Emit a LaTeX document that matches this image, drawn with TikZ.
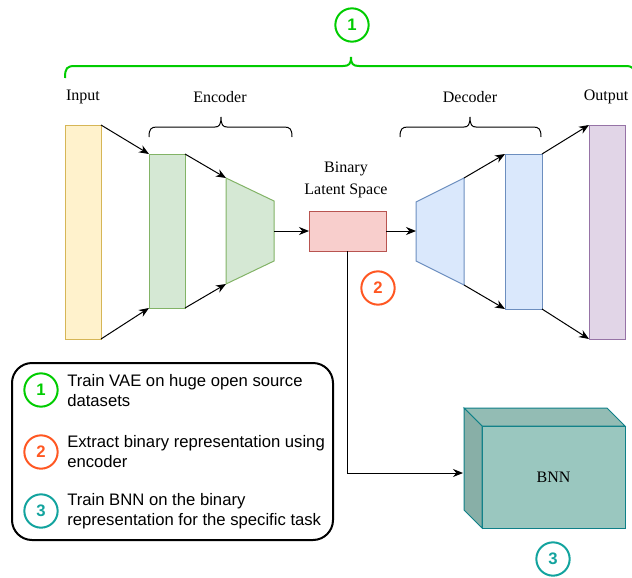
\documentclass[tikz,border=0pt]{standalone}
\usepackage{fontspec}
\setmainfont{Liberation Serif}
\setsansfont{Liberation Sans}
\usetikzlibrary{arrows.meta}
\definecolor{cgreen}{HTML}{00CC00}
\definecolor{corange}{HTML}{FF5722}
\definecolor{cteal}{HTML}{12A39E}
\definecolor{yfill}{HTML}{FFF2CC}\definecolor{ydraw}{HTML}{D6B656}
\definecolor{gfill}{HTML}{D5E8D4}\definecolor{gdraw}{HTML}{82B366}
\definecolor{rfill}{HTML}{F8CECC}\definecolor{rdraw}{HTML}{B85450}
\definecolor{bfill}{HTML}{DAE8FC}\definecolor{bdraw}{HTML}{6C8EBF}
\definecolor{pfill}{HTML}{E1D5E7}\definecolor{pdraw}{HTML}{9673A6}
\definecolor{tfront}{HTML}{9AC7BF}\definecolor{ttop}{HTML}{93BCB4}
\definecolor{tside}{HTML}{88AFA7}\definecolor{tdraw}{HTML}{0E8088}
\begin{document}
\begin{tikzpicture}[x=0.75pt,y=-0.75pt,
  font=\fontsize{12}{14.4}\selectfont,
  arr/.style={-{Stealth[length=7.5pt,width=6pt]}, line width=0.75pt, black},
  layer/.style={draw, line width=0.75pt, inner sep=0pt, outer sep=0pt},
  numc/.style={circle, draw, line width=1.5pt, minimum size=25pt, inner sep=0pt,
    font=\sffamily\bfseries\fontsize{12.5}{14}\selectfont},
  lbl/.style={inner sep=0pt},
  legtxt/.style={anchor=west, align=left, inner sep=0pt,
    font=\sffamily\fontsize{12.5}{15}\selectfont},
  brc/.style={line width=0.75pt}]
\useasboundingbox (0,0) rectangle (632,578);

% green brace and circle 1
\draw[cgreen, line width=1.5pt] (65,78) .. controls (65,68) and (67,66) .. (75,66) -- (343,66)
  .. controls (349,66) and (351,64) .. (351,57) .. controls (351,64) and (353,66) .. (359,66)
  -- (625,66) .. controls (633,66) and (635,68) .. (635,78);
\node[numc, cgreen, text=cgreen] (c1) at (352,25) {1};

% labels
\node[lbl] (tin) at (83,97) {Input};
\node[lbl] (tenc) at (220,97) {Encoder};
\node[lbl] (tdec) at (470,97) {Decoder};
\node[lbl] (tout) at (606,97) {Output};
\node[lbl, align=center] (tlat) at (346,180) {Binary\\[2pt]Latent Space};

% black braces
\draw[brc] (149,137) .. controls (149,129) and (151,127) .. (157,127) -- (215,127)
  .. controls (219,127) and (221,125) .. (221,117) .. controls (221,125) and (223,127) .. (227,127)
  -- (284,127) .. controls (290,127) and (292,129) .. (292,137);
\draw[brc] (400,137) .. controls (400,129) and (402,127) .. (408,127) -- (464,127)
  .. controls (468,127) and (470,125) .. (470,117) .. controls (470,125) and (472,127) .. (476,127)
  -- (533,127) .. controls (539,127) and (541,129) .. (541,137);

% layers
\node[layer, fill=yfill, draw=ydraw, minimum width=27pt, minimum height=160.5pt] (in) at (83,232) {};
\node[layer, fill=gfill, draw=gdraw, minimum width=27pt, minimum height=115.5pt] (e1) at (167,231) {};
\coordinate (etl) at (226,178); \coordinate (etr) at (274,201);
\coordinate (ebr) at (274,261); \coordinate (ebl) at (226,284);
\coordinate (emid) at (274,231);
\draw[fill=gfill, draw=gdraw, line width=0.75pt] (etl) -- (etr) -- (ebr) -- (ebl) -- cycle;
\node[layer, fill=rfill, draw=rdraw, minimum width=57.75pt, minimum height=30pt] (lat) at (347.5,231) {};
\coordinate (dtl) at (416,202); \coordinate (dtr) at (464,178);
\coordinate (dbr) at (464,285); \coordinate (dbl) at (416,261);
\coordinate (dmid) at (416,231);
\draw[fill=bfill, draw=bdraw, line width=0.75pt] (dtl) -- (dtr) -- (dbr) -- (dbl) -- cycle;
\node[layer, fill=bfill, draw=bdraw, minimum width=27.75pt, minimum height=116.25pt] (d1) at (523.5,231.5) {};
\node[layer, fill=pfill, draw=pdraw, minimum width=27pt, minimum height=160.5pt] (out) at (607,232) {};

% arrows
\draw[arr] (in.north east) -- (e1.north west);
\draw[arr] (in.south east) -- (e1.south west);
\draw[arr] (e1.north east) -- (etl);
\draw[arr] (e1.south east) -- (ebl);
\draw[arr] (emid) -- (lat.west);
\draw[arr] (lat.east) -- (dmid);
\draw[arr] (dtr) -- (d1.north west);
\draw[arr] (dbr) -- (d1.south west);
\draw[arr] (d1.north east) -- (out.north west);
\draw[arr] (d1.south east) -- (out.south west);

\node[numc, corange, text=corange] (c2) at (378,288) {2};

% BNN cube
\node[layer, fill=tfront, draw=tdraw, minimum width=107.25pt, minimum height=76.5pt] (bnn) at (553.5,477) {BNN};
\draw[fill=ttop, draw=tdraw, line width=0.75pt] (464,408) -- (607,408) -- (bnn.north east) -- (bnn.north west) -- cycle;
\draw[fill=tside, draw=tdraw, line width=0.75pt] (464,408) -- (bnn.north west) -- (bnn.south west) -- (464,510) -- cycle;
\coordinate (bnnin) at (463,473);
\draw[arr] (lat.south) |- (bnnin);
\node[numc, cteal, text=cteal] (c3) at (553,559) {3};

% legend
\node[draw, line width=1.5pt, rounded corners=15pt, minimum width=240.75pt, minimum height=132.75pt] (leg) at (172.5,451.5) {};
\node[numc, cgreen, text=cgreen] (l1) at (41,390) {1};
\node[numc, corange, text=corange] (l2) at (41,452) {2};
\node[numc, cteal, text=cteal] (l3) at (41,511) {3};
\node[legtxt] (t1) at (67,391) {Train VAE on huge open source\\datasets};
\node[legtxt] (t2) at (67,452) {Extract binary representation using\\encoder};
\node[legtxt] (t3) at (67,511) {Train BNN on the binary\\representation for the specific task};
\end{tikzpicture}
\end{document}
